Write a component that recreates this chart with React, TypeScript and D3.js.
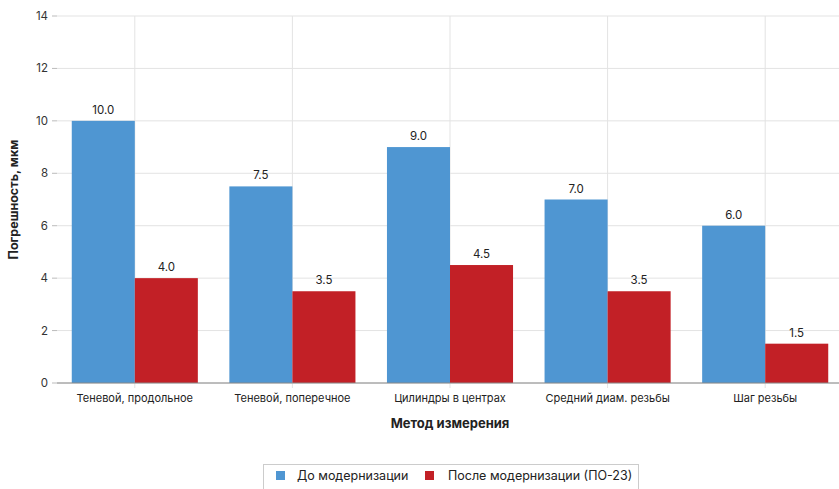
import React from "react";
import * as d3 from "d3";

const categories = [
  "Теневой, продольное",
  "Теневой, поперечное",
  "Цилиндры в центрах",
  "Средний диам. резьбы",
  "Шаг резьбы",
];
const seriesNames = ["До модернизации", "После модернизации (ПО-23)"];
const before = [10.0, 7.5, 9.0, 7.0, 6.0];
const after = [4.0, 3.5, 4.5, 3.5, 1.5];
const yTicks = [0, 2, 4, 6, 8, 10, 12, 14];
const colors = ["#4F96D2", "#C22026"];

export default function App() {
  const W = 839;
  const H = 489;
  const x = d3.scaleBand<string>().domain(categories).range([56, 844]).paddingInner(0.2).paddingOuter(0.1);
  const y = d3.scaleLinear().domain([0, 14]).range([383, 16]);
  const inner = d3.scaleBand<number>().domain([0, 1]).range([0, x.bandwidth()]);
  const font = "Inter, 'Open Sans', sans-serif";
  const series = [before, after];
  return (
    <div style={{ position: "fixed", left: 0, top: 0 }}>
      <svg width={W} height={H} style={{ display: "block", fontFamily: font }}>
        <rect width={W} height={H} fill="#fff" />
        {yTicks.map((t) => (
          <g key={t}>
            <line x1={57} x2={W} y1={y(t)} y2={y(t)} stroke="#e3e3e3" strokeWidth={1} />
            <line x1={52} x2={57} y1={y(t)} y2={y(t)} stroke="#bbb" />
            <text x={48} y={y(t)} dy="0.35em" textAnchor="end" fontSize={11.5} fill="#333">
              {t}
            </text>
          </g>
        ))}
        {categories.map((c) => (
          <line key={c} x1={x(c)! + x.bandwidth() / 2} x2={x(c)! + x.bandwidth() / 2} y1={16} y2={388} stroke="#e3e3e3" />
        ))}
        {series.map((vals, si) =>
          categories.map((c, i) => (
            <g key={si + c}>
              <rect
                x={x(c)! + inner(si)!}
                y={y(vals[i])}
                width={inner.bandwidth()}
                height={y(0) - y(vals[i])}
                fill={colors[si]}
              />
              <text
                x={x(c)! + inner(si)! + inner.bandwidth() / 2}
                y={y(vals[i]) - 7}
                textAnchor="middle"
                fontSize={11.5}
                fill="#222"
              >
                {vals[i].toFixed(1)}
              </text>
            </g>
          ))
        )}
        <line x1={57} x2={W} y1={y(0)} y2={y(0)} stroke="#888" />
        {categories.map((c) => (
          <text key={c} x={x(c)! + x.bandwidth() / 2} y={402} textAnchor="middle" fontSize={11} fill="#222">
            {c}
          </text>
        ))}
        <text x={450} y={428} textAnchor="middle" fontSize={13} fontWeight="bold" fill="#222">
          Метод измерения
        </text>
        <text transform={`translate(18,${y(7)}) rotate(-90)`} textAnchor="middle" fontSize={12.5} fontWeight="bold" fill="#222">
          Погрешность, мкм
        </text>
        <rect x={263.5} y={464.5} width={375} height={40} fill="#fff" stroke="#ccc" />
        <rect x={276} y={471} width={9} height={9} fill={colors[0]} />
        <text x={297} y={476} dy="0.35em" fontSize={12.5} fill="#222">
          {seriesNames[0]}
        </text>
        <rect x={425} y={471} width={9} height={9} fill={colors[1]} />
        <text x={448} y={476} dy="0.35em" fontSize={12.5} fill="#222">
          {seriesNames[1]}
        </text>
      </svg>
    </div>
  );
}
